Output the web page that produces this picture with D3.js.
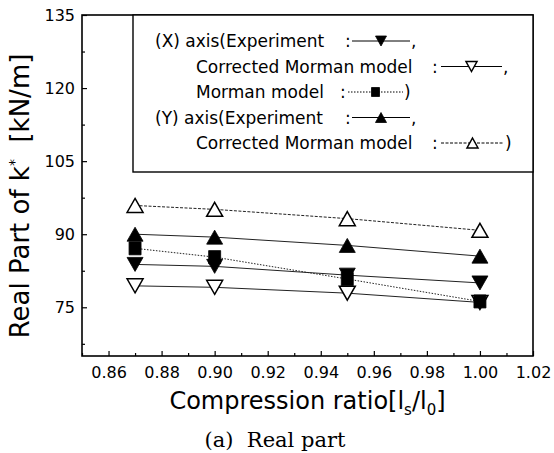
<!DOCTYPE html>
<html>
<head>
<meta charset="utf-8">
<script src="https://cdn.jsdelivr.net/npm/d3@7"></script>
<style>
  body { margin: 0; background: #fff; }
  svg { display: block; }
  text { font-family: 'DejaVu Sans', sans-serif; fill: #000; }
</style>
</head>
<body>
<script>
  // compression ratio ls/l0
  var ratios = [0.87, 0.90, 0.95, 1.00]
  // real part of k* [kN/m]
  var xExperiment = [83.8, 83.4, 81.6, 80.0]
  var xCorrected = [79.4, 79.1, 77.9, 76.0]
  var xMorman = [87.1, 85.3, 80.8, 76.2]
  var yExperiment = [90.0, 89.4, 87.7, 85.5]
  var yCorrected = [95.9, 95.1, 93.2, 90.8]

  var xTicks = [0.86, 0.88, 0.90, 0.92, 0.94, 0.96, 0.98, 1.00, 1.02]
  var xMinor = [0.85, 0.87, 0.89, 0.91, 0.93, 0.95, 0.97, 0.99, 1.01]
  var yTicks = [75, 90, 105, 120, 135]
  var yMinor = [67.5, 82.5, 97.5, 112.5, 127.5]

  var width = 554
  var height = 453
  // plot frame (note: "top" is taken by window.top)
  var plotLeft = 82
  var plotRight = 533
  var plotTop = 15
  var plotBottom = 356

  var x = d3.scaleLinear().domain([0.85, 1.02]).range([plotLeft, plotRight])
  var y = d3.scaleLinear().domain([65, 135]).range([plotBottom, plotTop])

  // draw order matters: open down sits under the square at 1.00
  var series = [
    { values: yCorrected, marker: 'up', open: true, dash: '3,1.5' },
    { values: yExperiment, marker: 'up', open: false, dash: null },
    { values: xCorrected, marker: 'down', open: true, dash: null },
    { values: xExperiment, marker: 'down', open: false, dash: null },
    { values: xMorman, marker: 'square', open: false, dash: '1.5,1.5' }
  ]

  var svg = d3.select('body').append('svg')
    .attr('width', width)
    .attr('height', height)

  function markerPath (type, w, h) {
    if (type === 'up') {
      return 'M0,' + (-h / 2) + 'L' + (w / 2) + ',' + (h / 2) + 'L' + (-w / 2) + ',' + (h / 2) + 'Z'
    }
    if (type === 'down') {
      return 'M0,' + (h / 2) + 'L' + (w / 2) + ',' + (-h / 2) + 'L' + (-w / 2) + ',' + (-h / 2) + 'Z'
    }
    return 'M' + (-w / 2) + ',' + (-h / 2) + 'h' + w + 'v' + h + 'h' + (-w) + 'Z'
  }

  function drawMarker (g, s, cx, cy, small) {
    var w = s.marker === 'square' ? (small ? 8 : 12) : (small ? 11 : 16)
    var h = s.marker === 'square' ? (small ? 9 : 13) : (small ? 10 : 14)
    g.append('path')
      .attr('d', markerPath(s.marker, w, h))
      .attr('transform', 'translate(' + cx + ',' + cy + ')')
      .style('fill', s.open ? '#fff' : '#000')
      .style('stroke', '#000')
      .style('stroke-width', s.open ? 1.5 : 0.8)
      .style('stroke-linejoin', 'miter')
  }

  // axes (ticks point inward, Origin style)
  var xAxis = svg.append('g')
    .attr('transform', 'translate(0,' + plotBottom + ')')
    .call(d3.axisBottom(x).tickValues(xTicks).tickSize(-5).tickPadding(11)
      .tickFormat(d3.format('.2f')))
  svg.append('g')
    .attr('transform', 'translate(0,' + plotBottom + ')')
    .call(d3.axisBottom(x).tickValues(xMinor).tickSize(-3).tickFormat(''))

  svg.append('g')
    .attr('transform', 'translate(' + plotLeft + ',0)')
    .call(d3.axisLeft(y).tickValues(yTicks).tickSize(-5).tickPadding(7))
  svg.append('g')
    .attr('transform', 'translate(' + plotLeft + ',0)')
    .call(d3.axisLeft(y).tickValues(yMinor).tickSize(-3).tickFormat(''))

  svg.selectAll('.domain').remove()
  svg.selectAll('.tick line').style('stroke', '#000').style('stroke-width', 1.2)
  svg.selectAll('.tick text')
    .style('font-family', "'DejaVu Sans', sans-serif")
    .style('font-size', '16px')
  xAxis.selectAll('text').attr('dy', '0.71em')

  // frame
  svg.append('rect')
    .attr('x', plotLeft)
    .attr('y', plotTop)
    .attr('width', plotRight - plotLeft)
    .attr('height', plotBottom - plotTop)
    .style('fill', 'none')
    .style('stroke', '#000')
    .style('stroke-width', 1.6)

  // lines then markers
  var line = d3.line()
    .x(function (d, i) { return x(ratios[i]) })
    .y(function (d) { return y(d) })

  series.forEach(function (s) {
    svg.append('path')
      .datum(s.values)
      .attr('d', line)
      .style('fill', 'none')
      .style('stroke', '#222')
      .style('stroke-width', 1)
      .style('stroke-dasharray', s.dash)
  })

  var marks = svg.append('g')
  series.forEach(function (s) {
    s.values.forEach(function (v, i) {
      drawMarker(marks, s, x(ratios[i]), y(v), false)
    })
  })

  // legend box
  var legendLeft = 133
  var legendBottom = 172
  svg.append('rect')
    .attr('x', legendLeft)
    .attr('y', plotTop)
    .attr('width', plotRight - legendLeft)
    .attr('height', legendBottom - plotTop)
    .style('fill', '#fff')
    .style('stroke', '#000')
    .style('stroke-width', 1.4)

  var legendRows = [
    { label: '(X) axis(Experiment', tx: 155, colon: 345, x0: 352, x1: 410, end: ',', s: series[3] },
    { label: 'Corrected Morman model', tx: 196, colon: 432, x0: 441, x1: 502, end: ',', s: series[2] },
    { label: 'Morman model', tx: 196, colon: 340, x0: 348, x1: 403, end: ')', s: series[4] },
    { label: '(Y) axis(Experiment', tx: 155, colon: 345, x0: 352, x1: 410, end: ',', s: series[1] },
    { label: 'Corrected Morman model', tx: 196, colon: 432, x0: 441, x1: 504, end: ')', s: series[0] }
  ]

  var legend = svg.append('g').style('font-size', '17px')
  legendRows.forEach(function (r, i) {
    var base = 47 + i * 25.5
    legend.append('text').attr('x', r.tx).attr('y', base).text(r.label)
    legend.append('text').attr('x', r.colon).attr('y', base).text(':')
    legend.append('line')
      .attr('x1', r.x0).attr('x2', r.x1)
      .attr('y1', base - 6).attr('y2', base - 6)
      .style('stroke', '#000')
      .style('stroke-width', 1)
      .style('stroke-dasharray', r.s.dash)
    drawMarker(legend, r.s, (r.x0 + r.x1) / 2, base - 6, true)
    legend.append('text').attr('x', r.x1 + 1).attr('y', base).text(r.end)
  })

  // axis titles
  var xTitle = svg.append('text')
    .attr('x', (plotLeft + plotRight) / 2)
    .attr('y', 409)
    .attr('text-anchor', 'middle')
    .style('font-size', '24px')
  xTitle.append('tspan').text('Compression ratio[l')
  xTitle.append('tspan').attr('dy', 6).style('font-size', '15px').text('s')
  xTitle.append('tspan').attr('dy', -6).text('/l')
  xTitle.append('tspan').attr('dy', 6).style('font-size', '15px').text('0')
  xTitle.append('tspan').attr('dy', -6).text(']')

  var yTitle = svg.append('text')
    .attr('transform', 'translate(29,196) rotate(-90)')
    .attr('text-anchor', 'middle')
    .style('font-size', '26px')
    .style('white-space', 'pre')
  yTitle.append('tspan').text('Real Part of k')
  yTitle.append('tspan').attr('dy', -10).style('font-size', '14px').text('*')
  yTitle.append('tspan').attr('dy', 10).text('  [kN/m]')

  // caption
  svg.append('text')
    .attr('x', 275)
    .attr('y', 447)
    .attr('text-anchor', 'middle')
    .style('font-family', "'DejaVu Serif', serif")
    .style('font-size', '21px')
    .style('white-space', 'pre')
    .text('(a)  Real part')
</script>
</body>
</html>
